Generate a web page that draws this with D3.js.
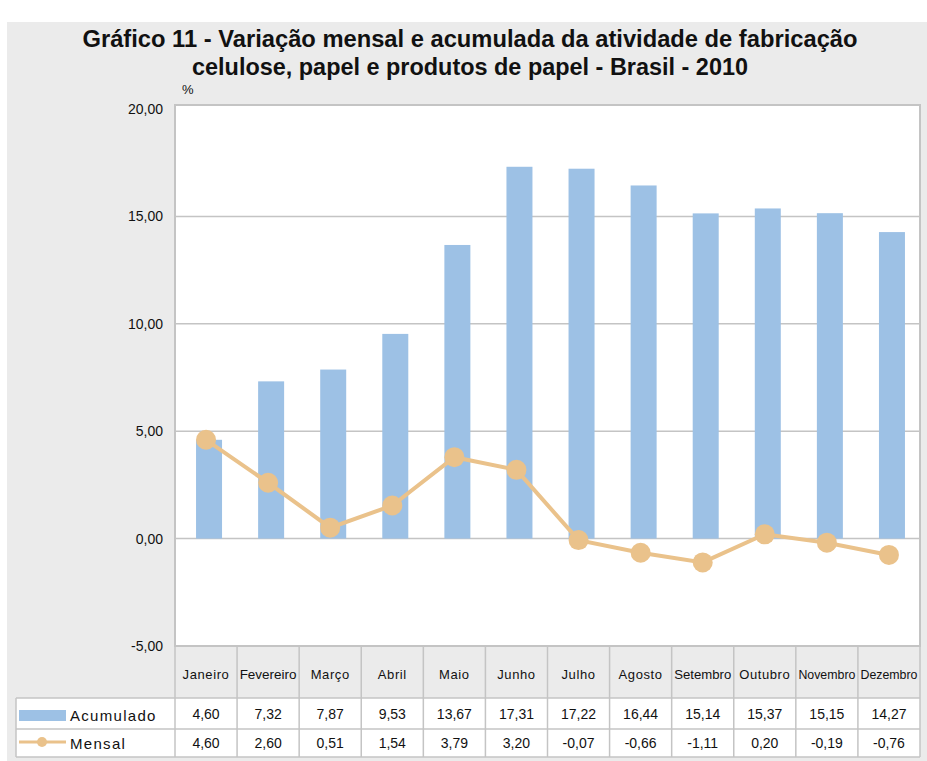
<!DOCTYPE html>
<html>
  <head>
    <meta charset="utf-8" />
    <script src="https://d3js.org/d3.v7.min.js"></script>
    <style>
      body { margin: 0; background: #fff; }
      text { font-family: "Liberation Sans", Arial, sans-serif; fill: #111; }
    </style>
  </head>
  <body>
    <svg id="chart" width="927" height="761"></svg>
    <script>
      // data
      const months = ["Janeiro", "Fevereiro", "Março", "Abril", "Maio", "Junho",
        "Julho", "Agosto", "Setembro", "Outubro", "Novembro", "Dezembro"];
      const acumulado = [4.60, 7.32, 7.87, 9.53, 13.67, 17.31, 17.22, 16.44, 15.14, 15.37, 15.15, 14.27];
      const mensal = [4.60, 2.60, 0.51, 1.54, 3.79, 3.20, -0.07, -0.66, -1.11, 0.20, -0.19, -0.76];
      const yTicks = [-5, 0, 5, 10, 15, 20];
      const titleLines = [
        "Gráfico 11 - Variação mensal e acumulada da atividade de fabricação",
        "celulose, papel e produtos de papel - Brasil - 2010"
      ];

      const svg = d3.select("#chart");
      const fmt = v => d3.format(".2f")(v).replace(".", ",").replace("−", "-");

      const left = 175, right = 920, plotTop = 105;
      const barColor = "#9dc1e5", lineColor = "#eac28b", gridColor = "#c4c4c4";

      // page background
      svg.append("rect").attr("x", 7).attr("y", 22).attr("width", 920).attr("height", 739)
        .attr("fill", "#ebebeb");

      // title (condensed look via textLength)
      svg.selectAll("text.title").data(titleLines).join("text")
        .attr("class", "title")
        .attr("x", 470).attr("y", (d, i) => 47 + i * 28)
        .attr("text-anchor", "middle")
        .attr("font-size", 23).attr("font-weight", "bold")
        .attr("textLength", (d, i) => i === 0 ? 775 : 556)
        .attr("lengthAdjust", "spacingAndGlyphs")
        .text(d => d);

      const x = d3.scaleBand().domain(months).range([left, right]);
      const y = d3.scaleLinear().domain([-5, 20]).range([646, 109]);

      // plot area
      svg.append("rect").attr("x", left).attr("y", plotTop)
        .attr("width", right - left).attr("height", 646 - plotTop)
        .attr("fill", "#fff").attr("stroke", gridColor).attr("stroke-width", 2);

      svg.append("g").selectAll("line").data(yTicks.filter(t => t > -5 && t < 20)).join("line")
        .attr("x1", left).attr("x2", right)
        .attr("y1", d => y(d)).attr("y2", d => y(d))
        .attr("stroke", gridColor).attr("stroke-width", 1.5);

      // y axis labels
      svg.append("g").selectAll("text").data(yTicks).join("text")
        .attr("x", 163).attr("y", d => y(d) + 5)
        .attr("text-anchor", "end").attr("font-size", 14)
        .text(d => fmt(d));
      svg.append("text").attr("x", 182).attr("y", 94).attr("font-size", 13).text("%");

      // bars
      const bw = 26;
      svg.append("g").selectAll("rect").data(acumulado).join("rect")
        .attr("x", (d, i) => x(months[i]) + x.bandwidth() / 2 - 10)
        .attr("y", d => y(d))
        .attr("width", bw)
        .attr("height", d => y(0) - y(d))
        .attr("fill", barColor);

      // line
      const cx = (d, i) => x(months[i]) + x.bandwidth() / 2;
      svg.append("path").datum(mensal)
        .attr("fill", "none").attr("stroke", lineColor).attr("stroke-width", 4)
        .attr("d", d3.line().x(cx).y(d => y(d)));
      svg.append("g").selectAll("circle").data(mensal).join("circle")
        .attr("cx", cx).attr("cy", d => y(d)).attr("r", 10).attr("fill", lineColor);

      // data table
      const rowTop = [646, 698, 729, 757];
      const tbl = svg.append("g");
      tbl.append("rect").attr("x", 16).attr("y", rowTop[1])
        .attr("width", right - 16).attr("height", rowTop[3] - rowTop[1]).attr("fill", "#fff");
      [rowTop[1], rowTop[2], rowTop[3]].forEach(yy => {
        tbl.append("line").attr("x1", 16).attr("x2", right).attr("y1", yy).attr("y2", yy)
          .attr("stroke", gridColor).attr("stroke-width", 1.5);
      });
      tbl.append("line").attr("x1", 16).attr("x2", 16).attr("y1", rowTop[1]).attr("y2", rowTop[3])
        .attr("stroke", gridColor).attr("stroke-width", 1.5);
      tbl.selectAll("line.col").data(months.concat(["end"])).join("line")
        .attr("class", "col")
        .attr("x1", (d, i) => left + i * x.bandwidth()).attr("x2", (d, i) => left + i * x.bandwidth())
        .attr("y1", rowTop[0]).attr("y2", rowTop[3])
        .attr("stroke", gridColor).attr("stroke-width", 1.5);

      const longName = d => d.length >= 8;
      tbl.selectAll("text.month").data(months).join("text")
        .attr("class", "month")
        .attr("x", d => x(d) + x.bandwidth() / 2).attr("y", 679)
        .attr("text-anchor", "middle").attr("font-size", 13)
        .attr("letter-spacing", d => longName(d) ? null : 0.6)
        .attr("textLength", d => longName(d) ? 57 : null)
        .attr("lengthAdjust", "spacingAndGlyphs")
        .text(d => d);

      [acumulado, mensal].forEach((vals, r) => {
        tbl.append("g").selectAll("text").data(vals).join("text")
          .attr("x", (d, i) => x(months[i]) + x.bandwidth() / 2)
          .attr("y", (rowTop[r + 1] + rowTop[r + 2]) / 2 + 5)
          .attr("text-anchor", "middle").attr("font-size", 14)
          .text(d => fmt(d));
      });

      // legend keys in the table
      tbl.append("rect").attr("x", 19).attr("y", 710).attr("width", 47).attr("height", 11).attr("fill", barColor);
      tbl.append("text").attr("x", 70).attr("y", 721).attr("font-size", 15)
        .attr("letter-spacing", 1.3).text("Acumulado");
      tbl.append("line").attr("x1", 19).attr("x2", 66).attr("y1", 742).attr("y2", 742)
        .attr("stroke", lineColor).attr("stroke-width", 3);
      tbl.append("circle").attr("cx", 42).attr("cy", 742).attr("r", 5).attr("fill", lineColor);
      tbl.append("text").attr("x", 70).attr("y", 749).attr("font-size", 15)
        .attr("letter-spacing", 1.3).text("Mensal");
    </script>
  </body>
</html>
